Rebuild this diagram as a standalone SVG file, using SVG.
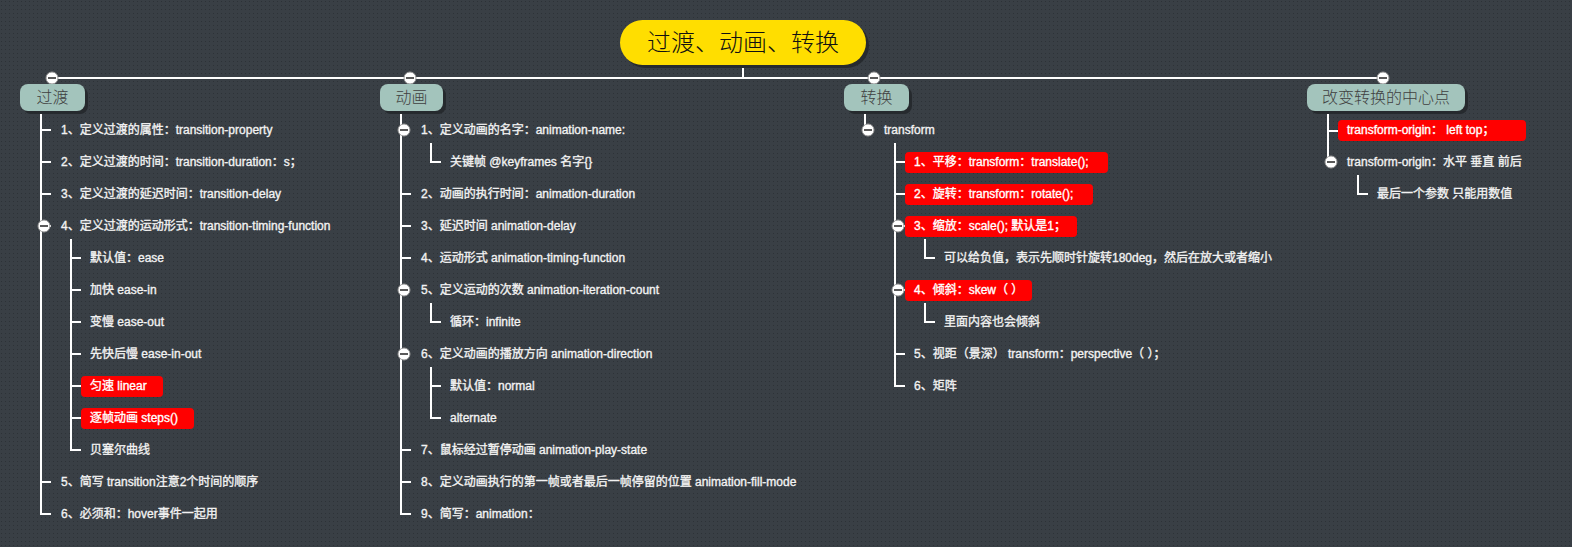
<svg xmlns="http://www.w3.org/2000/svg" xmlns:xlink="http://www.w3.org/1999/xlink" width="1572" height="547" viewBox="0 0 1572 547">
<defs>
<pattern id="dots" width="4" height="4" patternUnits="userSpaceOnUse"><rect width="4" height="4" fill="#393f45"/><rect x="1" y="1" width="1" height="1" fill="#2d3237"/></pattern>
<g id="minus"><circle r="6" fill="#fff" stroke="#9a9a9a" stroke-width="1"/><line x1="-4" y1="0" x2="4" y2="0" stroke="#5a5a5a" stroke-width="2"/></g>
</defs>
<style>
.t{font-family:"Liberation Sans","Noto Sans CJK SC",sans-serif;font-size:12px;fill:#f2f2f2;stroke:#f2f2f2;stroke-width:0.35px}
.rt{fill:#fff;stroke:#fff}
.b{font-family:"Noto Sans CJK SC",sans-serif;font-size:16px;font-weight:300;fill:#404040;text-anchor:middle}
.root{font-family:"Noto Sans CJK SC",sans-serif;font-size:24px;font-weight:300;fill:#111;text-anchor:middle}
.ln{stroke:#fff;stroke-width:2;fill:none}
.red{fill:#ff0000}
.bn{fill:#a3c4bc}
.sh{fill:#262a2e}
</style>
<rect width="1572" height="547" fill="url(#dots)"/>

<g id="connectors">
<path class="ln" d="M743 65V78"/>
<path class="ln" stroke-width="3" d="M52 78H1383"/>
<path class="ln" d="M41 111V514H51M41 130H51M41 162H51M41 194H51M41 226H51M41 482H51"/>
<path class="ln" d="M71 239V450H81M71 258H81M71 290H81M71 322H81M71 354H81M71 386H81M71 418H81"/>
<path class="ln" d="M401 111V514H411M401 194H411M401 226H411M401 258H411M401 450H411M401 482H411"/>
<path class="ln" d="M431 143V162H441M431 303V322H441M431 367V418H441M431 386H441"/>
<path class="ln" d="M865 111V130"/>
<path class="ln" d="M895 143V386H905M895 162H905M895 194H905M895 226H905M895 290H905M895 354H905"/>
<path class="ln" d="M925 239V258H935M925 303V322H935"/>
<path class="ln" d="M1328 111V162M1328 131H1338"/>
<path class="ln" d="M1358 175V194H1368"/>
</g>

<g id="root">
<rect class="sh" x="623" y="23" width="246" height="45" rx="22.5"/>
<rect x="620" y="20" width="246" height="45" rx="22.5" fill="#ffde00"/>
<text class="root" x="743" y="51">过渡、动画、转换</text>
</g>

<g id="markers">
<use xlink:href="#minus" x="52" y="78"/>
<use xlink:href="#minus" x="410" y="78"/>
<use xlink:href="#minus" x="874" y="78"/>
<use xlink:href="#minus" x="1383" y="78"/>
</g>

<g id="b-guodu">
<rect class="sh" x="23" y="87" width="65" height="27" rx="8"/>
<rect class="bn" x="20" y="84" width="65" height="27" rx="8"/>
<text class="b" x="52.5" y="103">过渡</text>
</g>
<g id="guodu-items">
<text class="t" x="61" y="134">1、定义过渡的属性：transition-property</text>
<text class="t" x="61" y="166">2、定义过渡的时间：transition-duration：s；</text>
<text class="t" x="61" y="198">3、定义过渡的延迟时间：transition-delay</text>
<use xlink:href="#minus" x="44" y="226"/>
<text class="t" x="61" y="230">4、定义过渡的运动形式：transition-timing-function</text>
<text class="t" x="90" y="262">默认值：ease</text>
<text class="t" x="90" y="294">加快 ease-in</text>
<text class="t" x="90" y="326">变慢 ease-out</text>
<text class="t" x="90" y="358">先快后慢 ease-in-out</text>
<rect class="red" x="81" y="376" width="82" height="21" rx="4"/>
<text class="t rt" x="90" y="390">匀速 linear</text>
<rect class="red" x="81" y="408" width="113" height="21" rx="4"/>
<text class="t rt" x="90" y="422">逐帧动画 steps()</text>
<text class="t" x="90" y="454">贝塞尔曲线</text>
<text class="t" x="61" y="486">5、简写 transition注意2个时间的顺序</text>
<text class="t" x="61" y="518">6、必须和：hover事件一起用</text>
</g>

<g id="b-donghua">
<rect class="sh" x="383" y="87" width="63" height="27" rx="8"/>
<rect class="bn" x="380" y="84" width="63" height="27" rx="8"/>
<text class="b" x="411.5" y="103">动画</text>
</g>
<g id="donghua-items">
<use xlink:href="#minus" x="404" y="130"/>
<text class="t" x="421" y="134">1、定义动画的名字：animation-name:</text>
<text class="t" x="450" y="166">关键帧 @keyframes 名字{}</text>
<text class="t" x="421" y="198">2、动画的执行时间：animation-duration</text>
<text class="t" x="421" y="230">3、延迟时间 animation-delay</text>
<text class="t" x="421" y="262">4、运动形式 animation-timing-function</text>
<use xlink:href="#minus" x="404" y="290"/>
<text class="t" x="421" y="294">5、定义运动的次数 animation-iteration-count</text>
<text class="t" x="450" y="326">循环：infinite</text>
<use xlink:href="#minus" x="404" y="354"/>
<text class="t" x="421" y="358">6、定义动画的播放方向 animation-direction</text>
<text class="t" x="450" y="390">默认值：normal</text>
<text class="t" x="450" y="422">alternate</text>
<text class="t" x="421" y="454">7、鼠标经过暂停动画 animation-play-state</text>
<text class="t" x="421" y="486">8、定义动画执行的第一帧或者最后一帧停留的位置 animation-fill-mode</text>
<text class="t" x="421" y="518">9、简写：animation：</text>
</g>

<g id="b-zhuanhuan">
<rect class="sh" x="847" y="87" width="65" height="27" rx="8"/>
<rect class="bn" x="844" y="84" width="65" height="27" rx="8"/>
<text class="b" x="876.5" y="103">转换</text>
</g>
<g id="zhuanhuan-items">
<use xlink:href="#minus" x="868" y="130"/>
<text class="t" x="884" y="134">transform</text>
<rect class="red" x="905" y="152" width="203" height="21" rx="4"/>
<text class="t rt" x="914" y="166">1、平移：transform：translate();</text>
<rect class="red" x="905" y="184" width="188" height="21" rx="4"/>
<text class="t rt" x="914" y="198">2、旋转：transform：rotate();</text>
<rect class="red" x="905" y="216" width="172" height="21" rx="4"/>
<use xlink:href="#minus" x="898" y="226"/>
<text class="t rt" x="914" y="230">3、缩放：scale(); 默认是1；</text>
<text class="t" x="944" y="262">可以给负值，表示先顺时针旋转180deg，然后在放大或者缩小</text>
<rect class="red" x="905" y="280" width="127" height="21" rx="4"/>
<use xlink:href="#minus" x="898" y="290"/>
<text class="t rt" x="914" y="294">4、倾斜：skew（ ）</text>
<text class="t" x="944" y="326">里面内容也会倾斜</text>
<text class="t" x="914" y="358">5、视距（景深） transform：perspective（ ）；</text>
<text class="t" x="914" y="390">6、矩阵</text>
</g>

<g id="b-center">
<rect class="sh" x="1310" y="87" width="158" height="27" rx="8"/>
<rect class="bn" x="1307" y="84" width="158" height="27" rx="8"/>
<text class="b" x="1386" y="103">改变转换的中心点</text>
</g>
<g id="center-items">
<rect class="red" x="1338" y="120" width="188" height="21" rx="4"/>
<text class="t rt" x="1347" y="134">transform-origin： left top；</text>
<use xlink:href="#minus" x="1331" y="162"/>
<text class="t" x="1347" y="166">transform-origin：水平 垂直 前后</text>
<text class="t" x="1377" y="198">最后一个参数 只能用数值</text>
</g>
</svg>
